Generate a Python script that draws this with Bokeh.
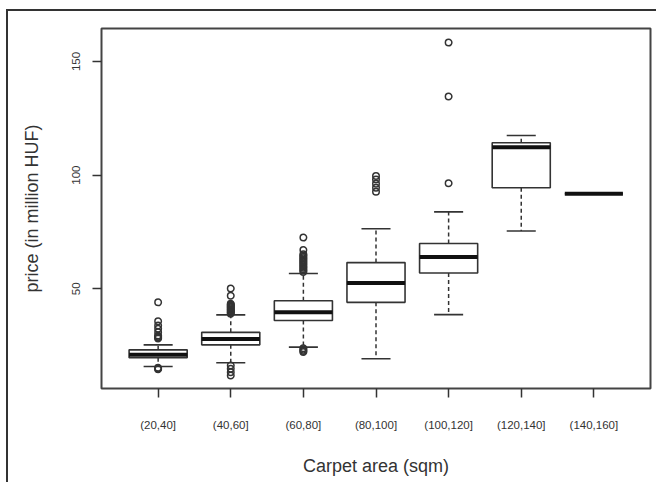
from bokeh.plotting import figure
from bokeh.models import Range1d, FixedTicker
from bokeh.embed import file_html
from bokeh.resources import INLINE

# ---- data ----
categories = ["(20,40]", "(40,60]", "(60,80]", "(80,100]", "(100,120]", "(120,140]", "(140,160]"]
q1 = [19.6, 25.3, 36.0, 44.0, 56.9, 94.4, 91.8]
median = [20.9, 27.9, 39.6, 52.5, 64.0, 112.3, 91.8]
q3 = [23.1, 30.8, 44.7, 61.5, 69.9, 114.2, 91.8]
whisker_low = [15.8, 17.4, 24.3, 19.2, 38.6, 75.4, 91.8]
whisker_high = [25.3, 38.5, 56.7, 76.4, 83.8, 117.4, 91.8]

outlier_cat = (["(20,40]"] * 12 + ["(40,60]"] * 18 + ["(60,80]"] * 20
               + ["(80,100]"] * 5 + ["(100,120]"] * 3)
outlier_val = [44.0, 35.7, 33.8, 32.4, 30.9, 29.4, 28.9, 28.5, 28.1, 14.6, 14.9, 15.2,
               50.1, 46.9, 43.4, 43.0, 42.6, 42.2, 41.8, 41.4, 41.0, 40.6, 40.2, 39.8, 39.4, 39.0,
               16.2, 14.8, 13.3, 11.8,
               72.5, 67.0, 65.2, 64.6, 64.0, 63.4, 62.8, 62.2, 61.6, 61.0, 60.4, 59.8, 59.2, 58.6,
               58.0, 57.4, 23.8, 23.2, 22.6, 22.2,
               99.6, 98.1, 96.2, 94.4, 92.7,
               158.3, 134.6, 96.4]
y_ticks = [50, 100, 150]

# ---- positions derived from categories ----
pos = list(range(1, len(categories) + 1))
cat_pos = {c: i for c, i in zip(categories, pos)}
box_half = 0.4
staple_half = 0.2
out_x = [cat_pos[c] for c in outlier_cat]

INK = "#333333"
FONT = "Liberation Sans"

p = figure(width=650, height=473,
           x_range=Range1d(0.22, 7.78), y_range=Range1d(6.1, 164.5),
           output_backend="svg", toolbar_location=None,
           min_border_left=93, min_border_right=8, min_border_top=17, min_border_bottom=96)

# outer frame of the picture (left and top edges)
p.styles = {"border-left": "2px solid #333333", "border-top": "2px solid #333333",
            "margin-left": "6px", "margin-top": "9px"}

p.background_fill_color = "white"
p.border_fill_color = "white"
p.outline_line_color = "#444444"
p.outline_line_width = 2
p.xgrid.visible = False
p.ygrid.visible = False

# whiskers (dashed)
p.segment(x0=pos, x1=pos, y0=q3, y1=whisker_high, line_color=INK, line_width=1.5, line_dash="4 3")
p.segment(x0=pos, x1=pos, y0=q1, y1=whisker_low, line_color=INK, line_width=1.5, line_dash="4 3")
# staples
p.segment(x0=[x - staple_half for x in pos], x1=[x + staple_half for x in pos],
          y0=whisker_high, y1=whisker_high, line_color=INK, line_width=1.6)
p.segment(x0=[x - staple_half for x in pos], x1=[x + staple_half for x in pos],
          y0=whisker_low, y1=whisker_low, line_color=INK, line_width=1.6)
# boxes
p.quad(left=[x - box_half for x in pos], right=[x + box_half for x in pos],
       bottom=q1, top=q3, fill_color="white", line_color=INK, line_width=1.6)
# medians
p.segment(x0=[x - box_half for x in pos], x1=[x + box_half for x in pos],
          y0=median, y1=median, line_color="#111111", line_width=4)
# outliers
p.scatter(x=out_x, y=outlier_val, marker="circle", size=6.5, fill_color=None,
          line_color=INK, line_width=1.5)

# axes
xa = p.xaxis[0]
xa.ticker = FixedTicker(ticks=pos)
xa.major_label_overrides = {i: c for i, c in zip(pos, categories)}
xa.axis_line_color = None
xa.major_tick_line_color = INK
xa.major_tick_line_width = 1.5
xa.major_tick_out = 9
xa.major_tick_in = 0
xa.minor_tick_line_color = None
xa.major_label_standoff = 21
xa.major_label_text_font = FONT
xa.major_label_text_font_size = "11.5px"
xa.major_label_text_color = INK
xa.axis_label = "Carpet area (sqm)"
xa.axis_label_text_font = FONT
xa.axis_label_text_font_size = "18px"
xa.axis_label_text_font_style = "normal"
xa.axis_label_text_color = INK
xa.axis_label_standoff = 22

ya = p.yaxis[0]
ya.ticker = FixedTicker(ticks=y_ticks)
ya.axis_line_color = None
ya.major_tick_line_color = INK
ya.major_tick_line_width = 1.5
ya.major_tick_out = 9
ya.major_tick_in = 0
ya.minor_tick_line_color = None
ya.major_label_orientation = "vertical"
ya.major_label_standoff = 12
ya.major_label_text_font = FONT
ya.major_label_text_font_size = "11.5px"
ya.major_label_text_color = INK
ya.axis_label = "price (in million HUF)"
ya.axis_label_text_font = FONT
ya.axis_label_text_font_size = "18px"
ya.axis_label_text_font_style = "normal"
ya.axis_label_text_color = INK
ya.axis_label_standoff = 28

open("out.html", "w").write(file_html(p, INLINE))
